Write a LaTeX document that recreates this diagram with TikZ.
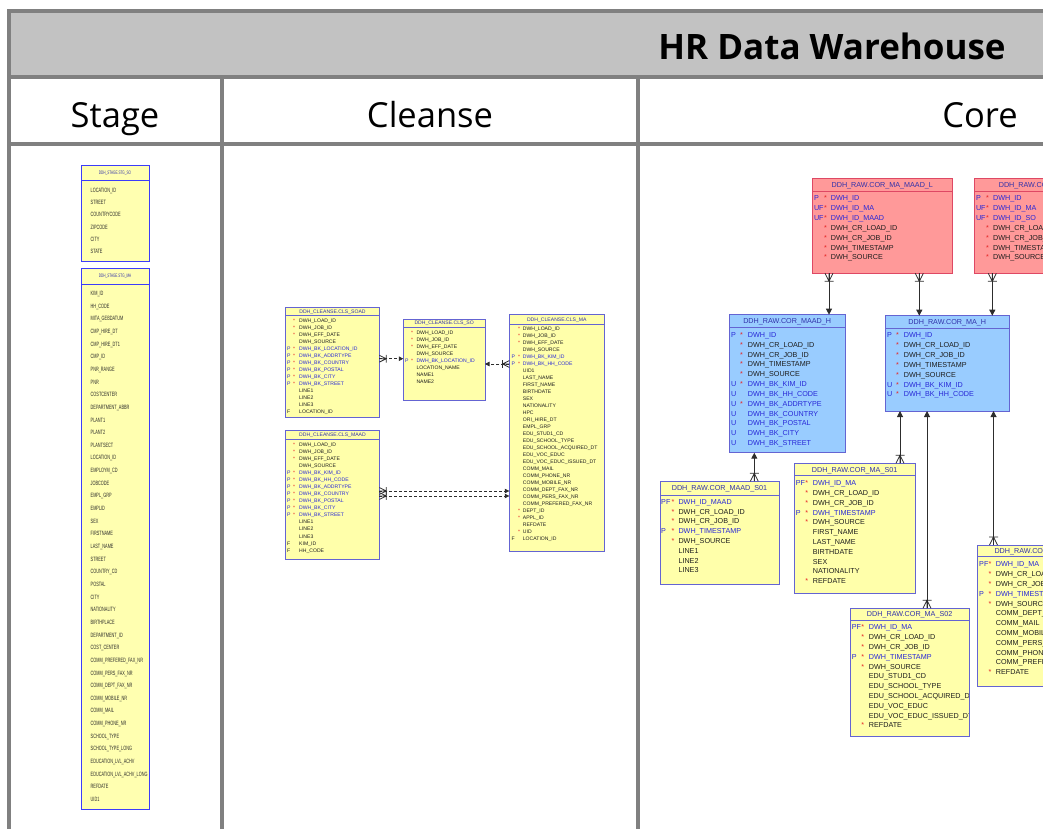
\documentclass[tikz,border=0pt]{standalone}
\usepackage{fontspec}
\usetikzlibrary{arrows.meta}
\setmainfont{Liberation Sans}
\newfontfamily\headfont{Open Sans}
\newfontfamily\tblfont{Liberation Sans}
\newfontfamily\stagefont[FakeStretch=0.62]{Liberation Sans}

\definecolor{frameGray}{RGB}{128,128,128}
\definecolor{bandGray}{RGB}{194,194,194}
\definecolor{stgFill}{RGB}{255,255,176}
\definecolor{stgLine}{RGB}{60,60,250}
\definecolor{stgText}{RGB}{40,40,40}
\definecolor{ylwFill}{RGB}{255,255,170}
\definecolor{bluFill}{RGB}{153,204,255}
\definecolor{redFill}{RGB}{255,153,153}
\definecolor{tblLine}{RGB}{100,100,210}
\definecolor{redLine}{RGB}{222,72,100}
\definecolor{hdrText}{RGB}{50,50,170}
\definecolor{namek}{RGB}{40,40,215}
\definecolor{namen}{RGB}{30,30,30}
\definecolor{starRed}{RGB}{230,40,40}
\definecolor{relLine}{RGB}{45,45,45}

\tikzset{
  frameline/.style={draw=frameGray, line width=3.5pt},
  stagebox/.style={draw=stgLine, fill=stgFill, line width=0.8pt},
  clsbox/.style={draw=tblLine, fill=ylwFill, line width=0.8pt},
  yelbox/.style={draw=tblLine, fill=ylwFill, line width=1pt},
  blubox/.style={draw=tblLine, fill=bluFill, line width=1pt},
  redbox/.style={draw=redLine, fill=redFill, line width=1pt},
  colhead/.style={font=\headfont\fontsize{34.5}{40}\selectfont, anchor=base, inner sep=0pt},
  stagetitle/.style={font=\stagefont\fontsize{5}{6}\selectfont, text=hdrText, anchor=base, inner sep=0pt, yshift=-1.8pt},
  stagerow/.style={font=\stagefont\fontsize{6.2}{7}\selectfont, text=stgText, anchor=base west, inner sep=0pt, yshift=-2.2pt},
  clstitle/.style={font=\tblfont\fontsize{5.1}{6}\selectfont, text=hdrText, anchor=base, inner sep=0pt, yshift=-1.8pt},
  clsrow/.style={font=\tblfont\fontsize{5.1}{6}\selectfont, anchor=base west, inner sep=0pt, yshift=-1.8pt},
  coretitle/.style={font=\tblfont\fontsize{7.2}{8}\selectfont, text=hdrText, anchor=base, inner sep=0pt, yshift=-2.6pt},
  corerow/.style={font=\tblfont\fontsize{7.2}{8}\selectfont, anchor=base west, inner sep=0pt, yshift=-2.6pt},
  fk/.style={draw=relLine, line width=1pt, -{Triangle[length=6pt,width=6pt]}},
  fkdash/.style={draw=relLine, line width=0.6pt, dash pattern=on 3pt off 2pt, -{Triangle[length=4.5pt,width=4.5pt]}},
  crow/.pic={\draw[relLine, line width=0.8pt] (0,-4) -- (8,0) -- (0,4) (0,0) -- (8,0) (8,-4.5) -- (8,4.5);},
}

% box with header rule and centred title
% #1 name, #2 style, #3 x, #4 y, #5 width, #6 height, #7 header height, #8 title, #9 title style
\newcommand\tablebox[9]{%
  \node[#2, anchor=north west, minimum width=#5pt, minimum height=#6pt, inner sep=0pt, outer sep=0pt] (#1) at (#3,#4) {};
  \draw[#2, fill=none] (#3,#4+#7) -- (#3+#5,#4+#7);
  \node[#9] (#1-title) at (#3+#5/2,#4+#7/2) {#8};
}

% column rows: prefix / mandatory star / column name / k(ey) or n(ormal)
% #1 table name, #2 text style, #3 x prefix, #4 x star, #5 x name, #6 y first row, #7 row pitch, #8 list
\newcommand\fieldrows[8]{%
  \foreach \pf/\st/\nm/\kc [count=\i from 0] in {#8} {
    \node[#2, text=name\kc] (#1-p\i) at (#3,#6+\i*#7) {\pf};
    \node[#2, text=starRed] (#1-s\i) at (#4,#6+\i*#7) {\st};
    \node[#2, text=name\kc] (#1-n\i) at (#5,#6+\i*#7) {\nm};
  }}

% plain name rows of the staging tables
\newcommand\stagerows[5]{%
  \foreach \nm [count=\i from 0] in {#5} {
    \node[stagerow] (#1-n\i) at (#2,#3+\i*#4) {\nm};
  }}

\catcode`\_=12

\begin{document}
\begin{tikzpicture}[x=1pt, y=-1pt]
\useasboundingbox (0,0) rectangle (1043,829);
\begin{scope}
\clip (0,0) rectangle (1043,829);

% ---------- swimlane frame ----------
\fill[bandGray] (9,11) rectangle (1060,77);
\draw[frameline] (9,850) -- (9,11) -- (1060,11);
\draw[frameline] (9,77) -- (1060,77);
\draw[frameline] (9,144) -- (1060,144);
\draw[frameline] (222,77) -- (222,850);
\draw[frameline] (638,77) -- (638,850);

\node[font=\headfont\bfseries\fontsize{35}{40}\selectfont, inner sep=0pt] (title) at (832,46.5) {HR Data Warehouse};
\node[colhead] (hstage) at (115,127.5) {Stage};
\node[colhead] (hcleanse) at (430,127.5) {Cleanse};
\node[colhead] (hcore) at (980,127.5) {Core};

% ---------- Stage ----------
\tablebox{stgso}{stagebox}{81}{165}{68}{96}{15}{DDH_STAGE.STG_SO}{stagetitle}
\stagerows{stgso}{90.5}{190}{12.35}{LOCATION_ID,STREET,COUNTRYCODE,ZIPCODE,CITY,STATE}

\tablebox{stgma}{stagebox}{81}{268}{68}{541}{16}{DDH_STAGE.STG_MA}{stagetitle}
\stagerows{stgma}{90.5}{293.3}{12.65}{KIM_ID,HH_CODE,MITA_GEBDATUM,CMP_HIRE_DT,CMP_HIRE_DT1,CMP_ID,PNR_RANGE,PNR,COSTCENTER,DEPARTMENT_ABBR,PLANT1,PLANT2,PLANTSECT,LOCATION_ID,EMPLOYM_CD,JOBCODE,EMPL_GRP,EMPLID,SEX,FIRSTNAME,LAST_NAME,STREET,COUNTRY_CD,POSTAL,CITY,NATIONALITY,BIRTHPLACE,DEPARTMENT_ID,COST_CENTER,COMM_PREFERED_FAX_NR,COMM_PERS_FAX_NR,COMM_DEPT_FAX_NR,COMM_MOBILE_NR,COMM_MAIL,COMM_PHONE_NR,SCHOOL_TYPE,SCHOOL_TYPE_LONG,EDUCATION_LVL_ACHV,EDUCATION_LVL_ACHV_LONG,REFDATE,UID1}

% ---------- Cleanse ----------
\tablebox{clssoad}{clsbox}{285.6}{307.5}{93.8}{110}{8}{DDH_CLEANSE.CLS_SOAD}{clstitle}
\fieldrows{clssoad}{clsrow}{286.8}{292.8}{299}{320.3}{7.05}{
/*/DWH_LOAD_ID/n,/*/DWH_JOB_ID/n,/*/DWH_EFF_DATE/n,//DWH_SOURCE/n,
P/*/DWH_BK_LOCATION_ID/k,P/*/DWH_BK_ADDRTYPE/k,P/*/DWH_BK_COUNTRY/k,P/*/DWH_BK_POSTAL/k,
P/*/DWH_BK_CITY/k,P/*/DWH_BK_STREET/k,//LINE1/n,//LINE2/n,//LINE3/n,F//LOCATION_ID/n}

\tablebox{clsso}{clsbox}{403.3}{319}{81.7}{81}{8}{DDH_CLEANSE.CLS_SO}{clstitle}
\fieldrows{clsso}{clsrow}{405}{411}{416.3}{332.7}{7}{
/*/DWH_LOAD_ID/n,/*/DWH_JOB_ID/n,/*/DWH_EFF_DATE/n,//DWH_SOURCE/n,
P/*/DWH_BK_LOCATION_ID/k,//LOCATION_NAME/n,//NAME1/n,//NAME2/n}

\tablebox{clsma}{clsbox}{509.3}{314.7}{95}{236.3}{9.3}{DDH_CLEANSE.CLS_MA}{clstitle}
\fieldrows{clsma}{clsrow}{511.3}{517.8}{522.7}{329}{7}{
/*/DWH_LOAD_ID/n,/*/DWH_JOB_ID/n,/*/DWH_EFF_DATE/n,//DWH_SOURCE/n,
P/*/DWH_BK_KIM_ID/k,P/*/DWH_BK_HH_CODE/k,//UID1/n,//LAST_NAME/n,//FIRST_NAME/n,
//BIRTHDATE/n,//SEX/n,//NATIONALITY/n,//HPC/n,//ORI_HIRE_DT/n,//EMPL_GRP/n,
//EDU_STUD1_CD/n,//EDU_SCHOOL_TYPE/n,//EDU_SCHOOL_ACQUIRED_DT/n,//EDU_VOC_EDUC/n,
//EDU_VOC_EDUC_ISSUED_DT/n,//COMM_MAIL/n,//COMM_PHONE_NR/n,//COMM_MOBILE_NR/n,
//COMM_DEPT_FAX_NR/n,//COMM_PERS_FAX_NR/n,//COMM_PREFERED_FAX_NR/n,/*/DEPT_ID/n,
/*/APPL_ID/n,//REFDATE/n,/*/UID/n,F//LOCATION_ID/n}

\tablebox{clsmaad}{clsbox}{285.6}{430.7}{93.8}{128.3}{8.3}{DDH_CLEANSE.CLS_MAAD}{clstitle}
\fieldrows{clsmaad}{clsrow}{286.8}{292.8}{299}{444.7}{7.04}{
/*/DWH_LOAD_ID/n,/*/DWH_JOB_ID/n,/*/DWH_EFF_DATE/n,//DWH_SOURCE/n,
P/*/DWH_BK_KIM_ID/k,P/*/DWH_BK_HH_CODE/k,P/*/DWH_BK_ADDRTYPE/k,P/*/DWH_BK_COUNTRY/k,
P/*/DWH_BK_POSTAL/k,P/*/DWH_BK_CITY/k,P/*/DWH_BK_STREET/k,//LINE1/n,//LINE2/n,//LINE3/n,
F//KIM_ID/n,F//HH_CODE/n}

% cleanse relationships
\coordinate (ry1) at (0,358.7);
\coordinate (ry2) at (0,364);
\coordinate (ry3) at (0,491);
\coordinate (ry4) at (0,496);
\draw[fkdash] (clssoad.east |- ry1) -- (clsso.west |- ry1);
\pic[rotate=0, scale=0.85] at (clssoad.east |- ry1) {crow};
\draw[fkdash] (clsma.west |- ry2) -- (clsso.east |- ry2);
\pic[rotate=180, scale=0.85] at (clsma.west |- ry2) {crow};
\draw[fkdash] (clsmaad.east |- ry3) -- (clsma.west |- ry3);
\pic[rotate=0, scale=0.85] at (clsmaad.east |- ry3) {crow};
\draw[fkdash] (clsmaad.east |- ry4) -- (clsma.west |- ry4);
\pic[rotate=0, scale=0.85] at (clsmaad.east |- ry4) {crow};

% ---------- Core ----------
\tablebox{maadl}{redbox}{812.3}{179}{140}{94.3}{12}{DDH_RAW.COR_MA_MAAD_L}{coretitle}
\fieldrows{maadl}{corerow}{813.8}{823.8}{830.7}{198.3}{9.83}{
P/*/DWH_ID/k,UF/*/DWH_ID_MA/k,UF/*/DWH_ID_MAAD/k,/*/DWH_CR_LOAD_ID/n,
/*/DWH_CR_JOB_ID/n,/*/DWH_TIMESTAMP/n,/*/DWH_SOURCE/n}

\tablebox{masol}{redbox}{974.3}{179}{140}{94.3}{12}{DDH_RAW.COR_MA_SO_L}{coretitle}
\fieldrows{masol}{corerow}{975.8}{986}{993}{198.3}{9.83}{
P/*/DWH_ID/k,UF/*/DWH_ID_MA/k,UF/*/DWH_ID_SO/k,/*/DWH_CR_LOAD_ID/n,
/*/DWH_CR_JOB_ID/n,/*/DWH_TIMESTAMP/n,/*/DWH_SOURCE/n}

\tablebox{maadh}{blubox}{729.3}{314.7}{115.7}{138}{12.6}{DDH_RAW.COR_MAAD_H}{coretitle}
\fieldrows{maadh}{corerow}{731}{740}{747.7}{334.7}{9.85}{
P/*/DWH_ID/k,/*/DWH_CR_LOAD_ID/n,/*/DWH_CR_JOB_ID/n,/*/DWH_TIMESTAMP/n,/*/DWH_SOURCE/n,
U/*/DWH_BK_KIM_ID/k,U//DWH_BK_HH_CODE/k,U/*/DWH_BK_ADDRTYPE/k,U//DWH_BK_COUNTRY/k,
U//DWH_BK_POSTAL/k,U//DWH_BK_CITY/k,U//DWH_BK_STREET/k}

\tablebox{mah}{blubox}{885.3}{315.7}{124}{95.3}{13}{DDH_RAW.COR_MA_H}{coretitle}
\fieldrows{mah}{corerow}{887}{896}{903.7}{335}{9.88}{
P/*/DWH_ID/k,/*/DWH_CR_LOAD_ID/n,/*/DWH_CR_JOB_ID/n,/*/DWH_TIMESTAMP/n,/*/DWH_SOURCE/n,
U/*/DWH_BK_KIM_ID/k,U/*/DWH_BK_HH_CODE/k}

\tablebox{maads}{yelbox}{660}{481.3}{119}{103}{13.7}{DDH_RAW.COR_MAAD_S01}{coretitle}
\fieldrows{maads}{corerow}{661}{671.5}{678.3}{501.7}{9.8}{
PF/*/DWH_ID_MAAD/k,/*/DWH_CR_LOAD_ID/n,/*/DWH_CR_JOB_ID/n,P/*/DWH_TIMESTAMP/k,
/*/DWH_SOURCE/n,//LINE1/n,//LINE2/n,//LINE3/n}

\tablebox{mas1}{yelbox}{794.3}{463.3}{120.7}{130}{12.4}{DDH_RAW.COR_MA_S01}{coretitle}
\fieldrows{mas1}{corerow}{795.7}{805.2}{812.7}{483.3}{9.77}{
PF/*/DWH_ID_MA/k,/*/DWH_CR_LOAD_ID/n,/*/DWH_CR_JOB_ID/n,P/*/DWH_TIMESTAMP/k,
/*/DWH_SOURCE/n,//FIRST_NAME/n,//LAST_NAME/n,//BIRTHDATE/n,//SEX/n,//NATIONALITY/n,
/*/REFDATE/n}

\tablebox{mas2}{yelbox}{850.3}{608.3}{118.7}{127.7}{11.7}{DDH_RAW.COR_MA_S02}{coretitle}
\begin{scope}
\clip (850.3,608.3) rectangle (968.5,736);
\fieldrows{mas2}{corerow}{851.7}{861.2}{868.7}{627.3}{9.8}{
PF/*/DWH_ID_MA/k,/*/DWH_CR_LOAD_ID/n,/*/DWH_CR_JOB_ID/n,P/*/DWH_TIMESTAMP/k,
/*/DWH_SOURCE/n,//EDU_STUD1_CD/n,//EDU_SCHOOL_TYPE/n,//EDU_SCHOOL_ACQUIRED_DT/n,
//EDU_VOC_EDUC/n,//EDU_VOC_EDUC_ISSUED_DT/n,/*/REFDATE/n}
\end{scope}

\tablebox{mas3}{yelbox}{977.7}{545}{119}{141.7}{11.7}{DDH_RAW.COR_MA_S03}{coretitle}
\fieldrows{mas3}{corerow}{979}{988.5}{995.7}{564.3}{9.8}{
PF/*/DWH_ID_MA/k,/*/DWH_CR_LOAD_ID/n,/*/DWH_CR_JOB_ID/n,P/*/DWH_TIMESTAMP/k,
/*/DWH_SOURCE/n,//COMM_DEPT_FAX_NR/n,//COMM_MAIL/n,//COMM_MOBILE_NR/n,
//COMM_PERS_FAX_NR/n,//COMM_PHONE_NR/n,//COMM_PREFERED_FAX_NR/n,/*/REFDATE/n}

% core relationships (many side marked with a crow's foot)
\coordinate (cx1) at (829,0);
\coordinate (cx2) at (919.3,0);
\coordinate (cx3) at (992.3,0);
\coordinate (cx4) at (754.3,0);
\coordinate (cx5) at (900,0);
\coordinate (cx6) at (927,0);
\coordinate (cx7) at (993.5,0);

\draw[fk] (maadl.south -| cx1) -- (maadh.north -| cx1);
\pic[rotate=-90] at (maadl.south -| cx1) {crow};
\draw[fk] (maadl.south -| cx2) -- (mah.north -| cx2);
\pic[rotate=-90] at (maadl.south -| cx2) {crow};
\draw[fk] (masol.south -| cx3) -- (mah.north -| cx3);
\pic[rotate=-90] at (masol.south -| cx3) {crow};

\draw[fk] (maads.north -| cx4) -- (maadh.south -| cx4);
\pic[rotate=90] at (maads.north -| cx4) {crow};
\draw[fk] (mas1.north -| cx5) -- (mah.south -| cx5);
\pic[rotate=90] at (mas1.north -| cx5) {crow};
\draw[fk] (mas2.north -| cx6) -- (mah.south -| cx6);
\pic[rotate=90] at (mas2.north -| cx6) {crow};
\draw[fk] (mas3.north -| cx7) -- (mah.south -| cx7);
\pic[rotate=90] at (mas3.north -| cx7) {crow};

\end{scope}
\end{tikzpicture}
\end{document}
